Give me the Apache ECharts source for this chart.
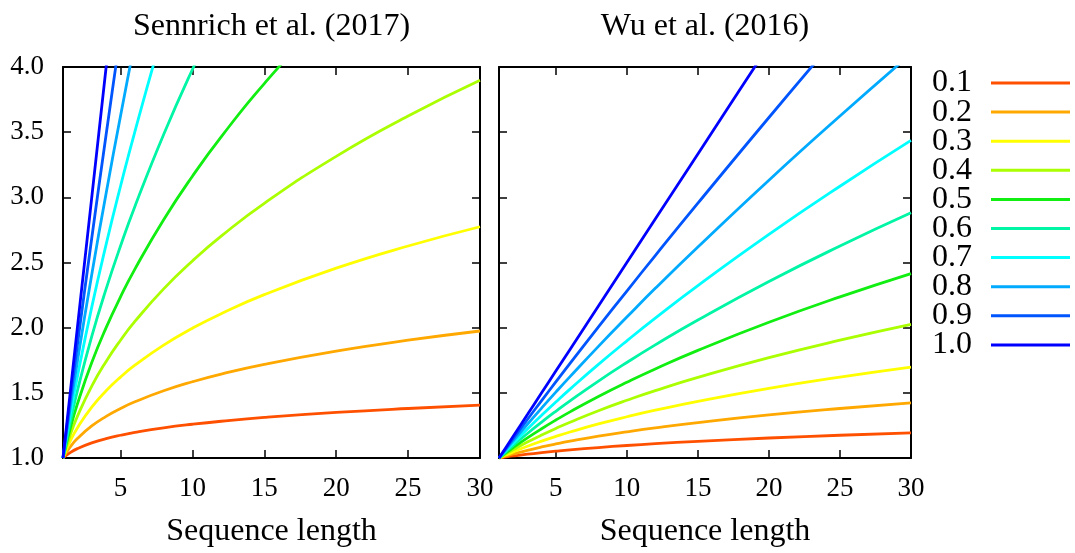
<!DOCTYPE html>
<html>
<head>
<meta charset="utf-8">
<script src="https://cdn.jsdelivr.net/npm/echarts@6/dist/echarts.min.js"></script>
<style>
html,body{margin:0;padding:0;background:#fff;}
#container{width:1075px;height:553px;}
</style>
</head>
<body>
<div id="container"></div>
<script>
// sequence lengths sampled (x)
var xs = [1, 1.5, 2, 3, 4, 5, 6, 8, 10, 12, 15, 20, 25, 30];
var alphas = ['0.1', '0.2', '0.3', '0.4', '0.5', '0.6', '0.7', '0.8', '0.9', '1.0'];
var colors = ['#ff5000', '#ffa800', '#ffff00', '#aaff00', '#11ee11', '#00f5a5', '#00ffff', '#00aaff', '#0055ff', '#0000ff'];
var xTicks = [5, 10, 15, 20, 25, 30];

// Sennrich et al. (2017)
var sen01 = [1, 1.0414, 1.0718, 1.1161, 1.1487, 1.1746, 1.1962, 1.2311, 1.2589, 1.2821, 1.3110, 1.3493, 1.3797, 1.4051];
var sen02 = [1, 1.0845, 1.1487, 1.2457, 1.3195, 1.3797, 1.4310, 1.5157, 1.5849, 1.6438, 1.7188, 1.8206, 1.9037, 1.9744];
var sen03 = [1, 1.1293, 1.2311, 1.3904, 1.5157, 1.6207, 1.7118, 1.8661, 1.9953, 2.1075, 2.2533, 2.4564, 2.6265, 2.7742];
var sen04 = [1, 1.1761, 1.3195, 1.5518, 1.7411, 1.9037, 2.0477, 2.2974, 2.5119, 2.7021, 2.9542, 3.3145, 3.6239, 3.8981];
var sen05 = [1, 1.2247, 1.4142, 1.7321, 2.0000, 2.2361, 2.4495, 2.8284, 3.1623, 3.4641, 3.8730, 4.4721, 5.0000, 5.4772];
var sen06 = [1, 1.2754, 1.5157, 1.9332, 2.2974, 2.6265, 2.9302, 3.4822, 3.9811, 4.4416, 5.0776, 6.0342, 6.8986, 7.6961];
var sen07 = [1, 1.3282, 1.6245, 2.1577, 2.6390, 3.0852, 3.5050, 4.2871, 5.0119, 5.6903, 6.6569, 8.1418, 9.5182, 10.8134];
var sen08 = [1, 1.3832, 1.7411, 2.4082, 3.0314, 3.6239, 4.1930, 5.2780, 6.3096, 7.3014, 8.7272, 10.9856, 13.1326, 15.1955];
var sen09 = [1, 1.4404, 1.8661, 2.6879, 3.4822, 4.2567, 5.0153, 6.4980, 7.9433, 9.3354, 11.4358, 14.8698, 18.1195, 21.3551];
var sen10 = [1, 1.5, 2, 3, 4, 5, 6, 8, 10, 12, 15, 20, 25, 30];

// Wu et al. (2016)
var wu01 = [1, 1.0080, 1.0155, 1.0292, 1.0414, 1.0524, 1.0625, 1.0804, 1.0960, 1.1098, 1.1279, 1.1534, 1.1746, 1.1929];
var wu02 = [1, 1.0161, 1.0313, 1.0592, 1.0845, 1.1076, 1.1289, 1.1673, 1.2011, 1.2317, 1.2721, 1.3303, 1.3797, 1.4230];
var wu03 = [1, 1.0243, 1.0473, 1.0901, 1.1293, 1.1656, 1.1994, 1.2611, 1.3164, 1.3668, 1.4350, 1.5344, 1.6207, 1.6974];
var wu04 = [1, 1.0325, 1.0636, 1.1219, 1.1761, 1.2268, 1.2744, 1.3626, 1.4427, 1.5171, 1.6183, 1.7697, 1.9037, 2.0250];
var wu05 = [1, 1.0408, 1.0801, 1.1547, 1.2247, 1.2910, 1.3540, 1.4720, 1.5811, 1.6833, 1.8257, 2.0412, 2.2361, 2.4152];
var wu06 = [1, 1.0492, 1.0968, 1.1883, 1.2754, 1.3586, 1.4386, 1.5904, 1.7329, 1.8681, 2.0592, 2.3544, 2.6265, 2.8812];
var wu07 = [1, 1.0576, 1.1139, 1.2231, 1.3282, 1.4299, 1.5285, 1.7182, 1.8992, 2.0731, 2.3228, 2.7155, 3.0852, 3.4367];
var wu08 = [1, 1.0661, 1.1312, 1.2587, 1.3832, 1.5050, 1.6241, 1.8567, 2.0814, 2.3016, 2.6189, 3.1318, 3.6239, 4.1006];
var wu09 = [1, 1.0747, 1.1488, 1.2955, 1.4404, 1.5837, 1.7256, 2.0055, 2.2812, 2.5532, 2.9552, 3.6127, 4.2567, 4.8904];
var wu10 = [1, 1.0833, 1.1667, 1.3333, 1.5000, 1.6667, 1.8333, 2.1667, 2.5000, 2.8333, 3.3333, 4.1667, 5.0000, 5.8333];

var senAll = [sen01, sen02, sen03, sen04, sen05, sen06, sen07, sen08, sen09, sen10];
var wuAll = [wu01, wu02, wu03, wu04, wu05, wu06, wu07, wu08, wu09, wu10];

var FONT = 'Liberation Serif';
var dom = document.getElementById('container');
var myChart = echarts.init(dom);

function pairs(ys) {
    var out = [];
    for (var i = 0; i < xs.length; i++) {
        out.push([xs[i], ys[i]]);
    }
    return out;
}

function xAx(grid, pos, name, showLabel) {
    return {
        type: 'value', gridIndex: grid, position: pos, min: 1, max: 30,
        name: name, nameLocation: 'middle',
        nameGap: pos === 'bottom' ? 58 : 24,
        nameTextStyle: { fontFamily: FONT, fontSize: 32, color: '#000' },
        splitLine: { show: false },
        axisLine: { show: true, onZero: false, lineStyle: { color: '#000', width: 2 } },
        axisTick: { show: true, inside: true, length: 8, customValues: xTicks, lineStyle: { color: '#000', width: 1.5 } },
        axisLabel: { show: showLabel, customValues: xTicks, margin: 17, fontFamily: FONT, fontSize: 27, color: '#000' }
    };
}

function yAx(grid, pos, showLabel) {
    return {
        type: 'value', gridIndex: grid, position: pos, min: 1, max: 4, interval: 0.5,
        splitLine: { show: false },
        axisLine: { show: true, onZero: false, lineStyle: { color: '#000', width: 2 } },
        axisTick: { show: true, inside: true, length: 8, lineStyle: { color: '#000', width: 1.5 } },
        axisLabel: {
            show: showLabel, margin: 19, fontFamily: FONT, fontSize: 27, color: '#000',
            formatter: function (v) { return v.toFixed(1); }
        }
    };
}

var series = [];
for (var k = 0; k < alphas.length; k++) {
    series.push({
        name: alphas[k], type: 'line', xAxisIndex: 0, yAxisIndex: 0,
        data: pairs(senAll[k]), smooth: true,
        showSymbol: false, symbol: 'none', color: colors[k],
        lineStyle: { width: 2.8, color: colors[k] }, clip: true
    });
    series.push({
        name: alphas[k], type: 'line', xAxisIndex: 2, yAxisIndex: 2,
        data: pairs(wuAll[k]), smooth: true,
        showSymbol: false, symbol: 'none', color: colors[k],
        lineStyle: { width: 2.8, color: colors[k] }, clip: true
    });
}

var option = {
    animation: false,
    backgroundColor: '#fff',
    grid: [
        { left: 63, top: 67, width: 417, height: 394 },
        { left: 499, top: 67, width: 412, height: 394 }
    ],
    xAxis: [
        xAx(0, 'bottom', 'Sequence length', true),
        xAx(0, 'top', 'Sennrich et al. (2017)', false),
        xAx(1, 'bottom', 'Sequence length', true),
        xAx(1, 'top', 'Wu et al. (2016)', false)
    ],
    yAxis: [
        yAx(0, 'left', true),
        yAx(0, 'right', false),
        yAx(1, 'left', false),
        yAx(1, 'right', false)
    ],
    legend: {
        data: alphas, orient: 'vertical', align: 'right', padding: 0,
        right: 5, top: 67, icon: 'rect', itemWidth: 79, itemHeight: 3, itemGap: -2.9,
        textStyle: { fontFamily: FONT, fontSize: 32, color: '#000', padding: [0, 14, 0, 0] },
        selectedMode: false
    },
    series: series
};

myChart.setOption(option);
</script>
</body>
</html>
